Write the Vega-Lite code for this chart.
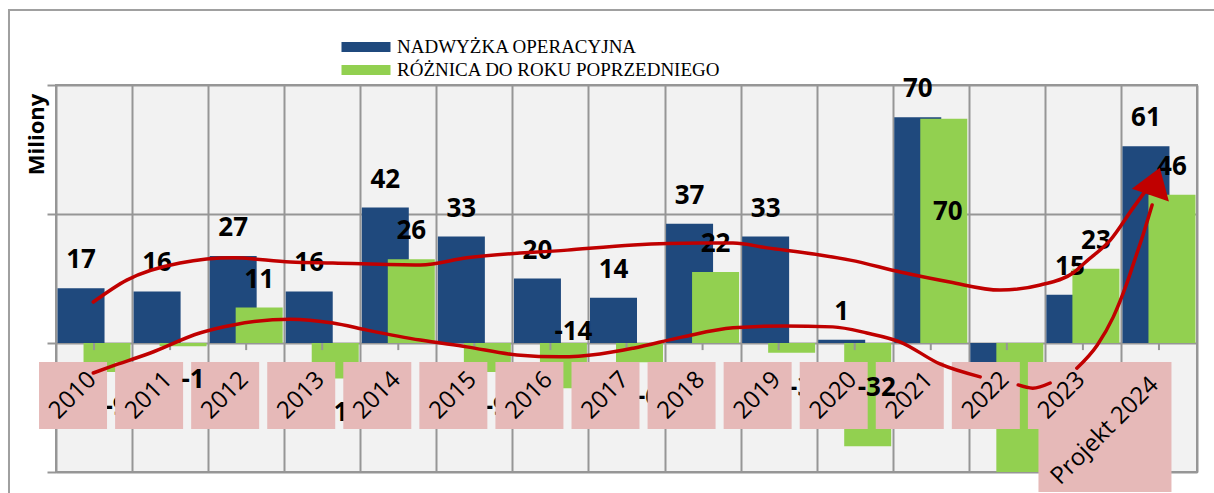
{
  "$schema": "https://vega.github.io/schema/vega-lite/v6.json",
  "width": 1141,
  "height": 387,
  "autosize": "none",
  "padding": {"left": 56, "top": 85, "right": 17, "bottom": 21},
  "background": "white",
  "config": {
    "view": {"fill": "#f2f2f2", "stroke": "#969696", "strokeWidth": 2},
    "font": "Open Sans",
    "locale": {"number": {"decimal": ".", "thousands": ",", "grouping": [3], "currency": ["", ""], "minus": "-"}}
  },
  "datasets": {
    "bars": [
      {"year": 2010, "label": "2010", "series": "NADWYŻKA OPERACYJNA", "value": 17},
      {"year": 2011, "label": "2011", "series": "NADWYŻKA OPERACYJNA", "value": 16},
      {"year": 2012, "label": "2012", "series": "NADWYŻKA OPERACYJNA", "value": 27},
      {"year": 2013, "label": "2013", "series": "NADWYŻKA OPERACYJNA", "value": 16},
      {"year": 2014, "label": "2014", "series": "NADWYŻKA OPERACYJNA", "value": 42},
      {"year": 2015, "label": "2015", "series": "NADWYŻKA OPERACYJNA", "value": 33},
      {"year": 2016, "label": "2016", "series": "NADWYŻKA OPERACYJNA", "value": 20},
      {"year": 2017, "label": "2017", "series": "NADWYŻKA OPERACYJNA", "value": 14},
      {"year": 2018, "label": "2018", "series": "NADWYŻKA OPERACYJNA", "value": 37},
      {"year": 2019, "label": "2019", "series": "NADWYŻKA OPERACYJNA", "value": 33},
      {"year": 2020, "label": "2020", "series": "NADWYŻKA OPERACYJNA", "value": 1},
      {"year": 2021, "label": "2021", "series": "NADWYŻKA OPERACYJNA", "value": 70},
      {"year": 2022, "label": "2022", "series": "NADWYŻKA OPERACYJNA", "value": -6},
      {"year": 2023, "label": "2023", "series": "NADWYŻKA OPERACYJNA", "value": 15},
      {"year": 2024, "label": "Projekt 2024", "series": "NADWYŻKA OPERACYJNA", "value": 61},
      {"year": 2010, "label": "2010", "series": "RÓŻNICA DO ROKU POPRZEDNIEGO", "value": -9},
      {"year": 2011, "label": "2011", "series": "RÓŻNICA DO ROKU POPRZEDNIEGO", "value": -1},
      {"year": 2012, "label": "2012", "series": "RÓŻNICA DO ROKU POPRZEDNIEGO", "value": 11},
      {"year": 2013, "label": "2013", "series": "RÓŻNICA DO ROKU POPRZEDNIEGO", "value": -11},
      {"year": 2014, "label": "2014", "series": "RÓŻNICA DO ROKU POPRZEDNIEGO", "value": 26},
      {"year": 2015, "label": "2015", "series": "RÓŻNICA DO ROKU POPRZEDNIEGO", "value": -9},
      {"year": 2016, "label": "2016", "series": "RÓŻNICA DO ROKU POPRZEDNIEGO", "value": -14},
      {"year": 2017, "label": "2017", "series": "RÓŻNICA DO ROKU POPRZEDNIEGO", "value": -6},
      {"year": 2018, "label": "2018", "series": "RÓŻNICA DO ROKU POPRZEDNIEGO", "value": 22},
      {"year": 2019, "label": "2019", "series": "RÓŻNICA DO ROKU POPRZEDNIEGO", "value": -3},
      {"year": 2020, "label": "2020", "series": "RÓŻNICA DO ROKU POPRZEDNIEGO", "value": -32},
      {"year": 2021, "label": "2021", "series": "RÓŻNICA DO ROKU POPRZEDNIEGO", "value": 69.5},
      {"year": 2022, "label": "2022", "series": "RÓŻNICA DO ROKU POPRZEDNIEGO", "value": -76},
      {"year": 2023, "label": "2023", "series": "RÓŻNICA DO ROKU POPRZEDNIEGO", "value": 23},
      {"year": 2024, "label": "Projekt 2024", "series": "RÓŻNICA DO ROKU POPRZEDNIEGO", "value": 46}
    ],
    "curves": [
      {"curve": "A", "i": 1, "t": 2009.99, "mln": 12.7},
      {"curve": "A", "i": 2, "t": 2010.43, "mln": 19.5},
      {"curve": "A", "i": 3, "t": 2011.13, "mln": 24.8},
      {"curve": "A", "i": 4, "t": 2011.83, "mln": 26.4},
      {"curve": "A", "i": 5, "t": 2012.58, "mln": 25.1},
      {"curve": "A", "i": 6, "t": 2013.14, "mln": 24.8},
      {"curve": "A", "i": 7, "t": 2014.29, "mln": 24.2},
      {"curve": "A", "i": 8, "t": 2014.90, "mln": 26.4},
      {"curve": "A", "i": 9, "t": 2016.22, "mln": 28.8},
      {"curve": "A", "i": 10, "t": 2017.09, "mln": 30.4},
      {"curve": "A", "i": 11, "t": 2017.97, "mln": 31.0},
      {"curve": "A", "i": 12, "t": 2018.40, "mln": 31.0},
      {"curve": "A", "i": 13, "t": 2018.85, "mln": 29.5},
      {"curve": "A", "i": 14, "t": 2019.54, "mln": 27.3},
      {"curve": "A", "i": 15, "t": 2019.94, "mln": 25.7},
      {"curve": "A", "i": 16, "t": 2020.60, "mln": 22.0},
      {"curve": "A", "i": 17, "t": 2021.25, "mln": 18.9},
      {"curve": "A", "i": 18, "t": 2021.91, "mln": 16.4},
      {"curve": "A", "i": 19, "t": 2022.44, "mln": 18.0},
      {"curve": "A", "i": 20, "t": 2022.87, "mln": 21.7},
      {"curve": "A", "i": 21, "t": 2023.05, "mln": 25.4},
      {"curve": "A", "i": 22, "t": 2023.36, "mln": 31.9},
      {"curve": "A", "i": 23, "t": 2023.66, "mln": 41.9},
      {"curve": "A", "i": 24, "t": 2023.83, "mln": 47.4},
      {"curve": "B", "i": 1, "t": 2009.99, "mln": -9.3},
      {"curve": "B", "i": 2, "t": 2010.21, "mln": -7.4},
      {"curve": "B", "i": 3, "t": 2010.74, "mln": -3.1},
      {"curve": "B", "i": 4, "t": 2011.39, "mln": 3.1},
      {"curve": "B", "i": 5, "t": 2011.83, "mln": 5.6},
      {"curve": "B", "i": 6, "t": 2012.58, "mln": 7.4},
      {"curve": "B", "i": 7, "t": 2013.14, "mln": 6.2},
      {"curve": "B", "i": 8, "t": 2013.59, "mln": 4.0},
      {"curve": "B", "i": 9, "t": 2014.29, "mln": 0.9},
      {"curve": "B", "i": 10, "t": 2014.90, "mln": -1.2},
      {"curve": "B", "i": 11, "t": 2015.56, "mln": -3.7},
      {"curve": "B", "i": 12, "t": 2016.13, "mln": -4.3},
      {"curve": "B", "i": 13, "t": 2016.65, "mln": -3.4},
      {"curve": "B", "i": 14, "t": 2017.09, "mln": -1.6},
      {"curve": "B", "i": 15, "t": 2017.74, "mln": 1.9},
      {"curve": "B", "i": 16, "t": 2018.40, "mln": 4.7},
      {"curve": "B", "i": 17, "t": 2019.06, "mln": 5.3},
      {"curve": "B", "i": 18, "t": 2019.71, "mln": 5.0},
      {"curve": "B", "i": 19, "t": 2020.16, "mln": 3.1},
      {"curve": "B", "i": 20, "t": 2020.60, "mln": 0.3},
      {"curve": "B", "i": 21, "t": 2021.12, "mln": -6.5},
      {"curve": "B", "i": 22, "t": 2021.65, "mln": -10.5},
      {"curve": "C", "i": 1, "t": 2022.15, "mln": -13.0},
      {"curve": "C", "i": 2, "t": 2022.34, "mln": -14.0},
      {"curve": "C", "i": 3, "t": 2022.57, "mln": -12.4},
      {"curve": "D", "i": 1, "t": 2022.92, "mln": -7.8},
      {"curve": "D", "i": 2, "t": 2023.19, "mln": -0.6},
      {"curve": "D", "i": 3, "t": 2023.40, "mln": 8.1},
      {"curve": "D", "i": 4, "t": 2023.57, "mln": 18.0},
      {"curve": "D", "i": 5, "t": 2023.68, "mln": 25.7},
      {"curve": "D", "i": 6, "t": 2023.79, "mln": 33.5},
      {"curve": "D", "i": 7, "t": 2023.91, "mln": 42.8}
    ],
    "arrow": [
      {"t": 2023.93, "mln": 48.8}
    ]
  },
  "data": {"name": "bars"},
  "layer": [
    {
      "transform": [{"filter": {"field": "series", "equal": "NADWYŻKA OPERACYJNA"}}],
      "mark": {"type": "bar", "width": 47, "xOffset": -13, "clip": true},
      "encoding": {
        "x": {"field": "year", "type": "quantitative",
              "scale": {"domain": [2009.5, 2024.5], "nice": false, "zero": false, "padding": 0},
              "axis": {"title": null, "labels": false, "ticks": false, "domain": false, "grid": true,
                       "values": [2009.5, 2010.5, 2011.5, 2012.5, 2013.5, 2014.5, 2015.5, 2016.5, 2017.5, 2018.5, 2019.5, 2020.5, 2021.5, 2022.5, 2023.5, 2024.5],
                       "gridColor": "#969696", "gridWidth": 2}},
        "y": {"field": "value", "type": "quantitative",
              "scale": {"domain": [-40, 80], "nice": false, "zero": false, "padding": 0},
              "axis": {"title": "Miliony", "values": [-40, 0, 40, 80], "labels": false, "domain": false,
                       "ticks": true, "tickSize": 9, "tickColor": "#969696", "tickWidth": 2,
                       "grid": true, "gridColor": "#969696", "gridWidth": 2,
                       "titleFont": "Open Sans", "titleFontWeight": "bold", "titleFontSize": 22,
                       "titleColor": "black", "titleAngle": -90, "titleAlign": "center",
                       "titleBaseline": "alphabetic", "titleX": -13, "titleY": 49}},
        "color": {"field": "series", "type": "nominal",
                  "scale": {"domain": ["NADWYŻKA OPERACYJNA", "RÓŻNICA DO ROKU POPRZEDNIEGO"],
                            "range": ["#1f497d", "#92d050"]},
                  "legend": {"orient": "none", "legendX": 297, "legendY": -51, "title": null,
                             "direction": "vertical",
                             "symbolType": "M-1.885,-0.385H1.885V0.385H-1.885Z",
                             "symbolSize": 676, "symbolStrokeWidth": 0, "symbolOpacity": 1,
                             "labelFont": "Liberation Serif", "labelFontSize": 19, "labelLimit": 0,
                             "labelColor": "black", "labelOffset": 18, "rowPadding": 0, "padding": 0}}
      }
    },
    {
      "transform": [{"filter": {"field": "series", "equal": "RÓŻNICA DO ROKU POPRZEDNIEGO"}}],
      "mark": {"type": "bar", "width": 47, "xOffset": 13, "clip": true},
      "encoding": {
        "x": {"field": "year", "type": "quantitative"},
        "y": {"field": "value", "type": "quantitative"},
        "color": {"field": "series", "type": "nominal"}
      }
    },
    {
      "transform": [{"filter": {"field": "series", "equal": "NADWYŻKA OPERACYJNA"}}],
      "mark": {"type": "rule", "color": "#969696", "strokeWidth": 2},
      "encoding": {
        "x": {"field": "year", "type": "quantitative"},
        "y": {"datum": 0, "type": "quantitative"},
        "y2": {"datum": -2.2}
      }
    },
    {
      "transform": [{"filter": "datum.series === 'NADWYŻKA OPERACYJNA' && datum.value >= 0"}],
      "mark": {"type": "text", "dx": -13, "dy": -20, "baseline": "alphabetic", "fontSize": 26, "fontWeight": "bold", "font": "Open Sans", "color": "black"},
      "encoding": {
        "x": {"field": "year", "type": "quantitative"},
        "y": {"field": "value", "type": "quantitative"},
        "text": {"field": "value", "type": "quantitative", "format": "d"}
      }
    },
    {
      "transform": [{"filter": "datum.series === 'NADWYŻKA OPERACYJNA' && datum.value < 0"}],
      "mark": {"type": "text", "dx": -13, "dy": 41, "baseline": "alphabetic", "fontSize": 26, "fontWeight": "bold", "font": "Open Sans", "color": "black"},
      "encoding": {
        "x": {"field": "year", "type": "quantitative"},
        "y": {"field": "value", "type": "quantitative"},
        "text": {"field": "value", "type": "quantitative", "format": "d"}
      }
    },
    {
      "transform": [{"filter": "datum.series === 'RÓŻNICA DO ROKU POPRZEDNIEGO' && datum.value >= 0 && datum.value < 60"}],
      "mark": {"type": "text", "dx": 13, "dy": -20, "baseline": "alphabetic", "fontSize": 26, "fontWeight": "bold", "font": "Open Sans", "color": "black"},
      "encoding": {
        "x": {"field": "year", "type": "quantitative"},
        "y": {"field": "value", "type": "quantitative"},
        "text": {"field": "value", "type": "quantitative", "format": "d"}
      }
    },
    {
      "transform": [{"filter": "datum.series === 'RÓŻNICA DO ROKU POPRZEDNIEGO' && datum.value >= 60"}],
      "mark": {"type": "text", "dx": 17, "dy": 101, "baseline": "alphabetic", "fontSize": 26, "fontWeight": "bold", "font": "Open Sans", "color": "black"},
      "encoding": {
        "x": {"field": "year", "type": "quantitative"},
        "y": {"field": "value", "type": "quantitative"},
        "text": {"field": "value", "type": "quantitative", "format": "d"}
      }
    },
    {
      "transform": [{"filter": "datum.series === 'RÓŻNICA DO ROKU POPRZEDNIEGO' && datum.value < 0 && datum.value > -20 && datum.year !== 2011 && datum.year !== 2016"}],
      "mark": {"type": "text", "dx": 22, "dy": 43, "baseline": "alphabetic", "fontSize": 26, "fontWeight": "bold", "font": "Open Sans", "color": "black"},
      "encoding": {
        "x": {"field": "year", "type": "quantitative"},
        "y": {"field": "value", "type": "quantitative"},
        "text": {"field": "value", "type": "quantitative", "format": "d"}
      }
    },
    {
      "transform": [{"filter": "datum.series === 'NADWYŻKA OPERACYJNA' && datum.year < 2024"}],
      "mark": {"type": "bar", "width": 68, "xOffset": -21, "color": "#e6b9b8"},
      "encoding": {
        "x": {"field": "year", "type": "quantitative"},
        "y": {"datum": -5.9, "type": "quantitative"},
        "y2": {"datum": -26.7}
      }
    },
    {
      "transform": [{"filter": "datum.series === 'NADWYŻKA OPERACYJNA' && datum.year === 2024"}],
      "mark": {"type": "bar", "width": 133, "xOffset": -54, "color": "#e6b9b8"},
      "encoding": {
        "x": {"field": "year", "type": "quantitative"},
        "y": {"datum": -5.9, "type": "quantitative"},
        "y2": {"datum": -46.2}
      }
    },
    {
      "transform": [{"filter": "datum.series === 'RÓŻNICA DO ROKU POPRZEDNIEGO' && datum.year === 2011"}],
      "mark": {"type": "text", "dx": 23, "dy": 42, "baseline": "alphabetic", "fontSize": 26, "fontWeight": "bold", "font": "Open Sans", "color": "black"},
      "encoding": {
        "x": {"field": "year", "type": "quantitative"},
        "y": {"field": "value", "type": "quantitative"},
        "text": {"field": "value", "type": "quantitative", "format": "d"}
      }
    },
    {
      "transform": [{"filter": "datum.series === 'RÓŻNICA DO ROKU POPRZEDNIEGO' && datum.year === 2016"}],
      "mark": {"type": "text", "dx": 23, "dy": -48, "baseline": "alphabetic", "fontSize": 26, "fontWeight": "bold", "font": "Open Sans", "color": "black"},
      "encoding": {
        "x": {"field": "year", "type": "quantitative"},
        "y": {"field": "value", "type": "quantitative"},
        "text": {"field": "value", "type": "quantitative", "format": "d"}
      }
    },
    {
      "transform": [{"filter": "datum.series === 'RÓŻNICA DO ROKU POPRZEDNIEGO' && datum.value <= -20 && datum.value > -40"}],
      "mark": {"type": "text", "dx": 22, "dy": -50, "baseline": "alphabetic", "fontSize": 26, "fontWeight": "bold", "font": "Open Sans", "color": "black"},
      "encoding": {
        "x": {"field": "year", "type": "quantitative"},
        "y": {"field": "value", "type": "quantitative"},
        "text": {"field": "value", "type": "quantitative", "format": "d"}
      }
    },
    {
      "transform": [{"filter": "datum.series === 'NADWYŻKA OPERACYJNA' && datum.year < 2024"}],
      "mark": {"type": "text", "angle": -45, "xOffset": -21, "align": "center", "baseline": "middle", "fontSize": 24, "font": "Open Sans", "color": "black"},
      "encoding": {
        "x": {"field": "year", "type": "quantitative"},
        "y": {"datum": -16.3, "type": "quantitative"},
        "text": {"field": "label"}
      }
    },
    {
      "transform": [{"filter": "datum.series === 'NADWYŻKA OPERACYJNA' && datum.year === 2024"}],
      "mark": {"type": "text", "angle": -45, "xOffset": -54, "align": "center", "baseline": "middle", "fontSize": 24, "font": "Open Sans", "color": "black"},
      "encoding": {
        "x": {"field": "year", "type": "quantitative"},
        "y": {"datum": -27.3, "type": "quantitative"},
        "text": {"field": "label"}
      }
    },
    {
      "data": {"name": "curves"},
      "mark": {"type": "line", "color": "#c00000", "strokeWidth": 3.5, "interpolate": "monotone", "strokeCap": "round"},
      "encoding": {
        "x": {"field": "t", "type": "quantitative"},
        "y": {"field": "mln", "type": "quantitative"},
        "detail": {"field": "curve"},
        "order": {"field": "i", "type": "quantitative"}
      }
    },
    {
      "data": {"name": "arrow"},
      "mark": {"type": "point", "shape": "M0,-0.95L0.98,0.5L-0.98,0.5Z", "filled": true, "color": "#c00000", "size": 1600, "angle": 19, "opacity": 1},
      "encoding": {
        "x": {"field": "t", "type": "quantitative"},
        "y": {"field": "mln", "type": "quantitative"}
      }
    },
    {
      "data": {"values": [{}]},
      "mark": {"type": "rect", "fill": null, "stroke": "#a0a0a0", "strokeWidth": 2, "clip": false},
      "encoding": {
        "x": {"datum": 2008.882, "type": "quantitative"},
        "x2": {"datum": 2024.9},
        "y": {"datum": 103.26, "type": "quantitative"},
        "y2": {"datum": -53}
      }
    }
  ]
}
